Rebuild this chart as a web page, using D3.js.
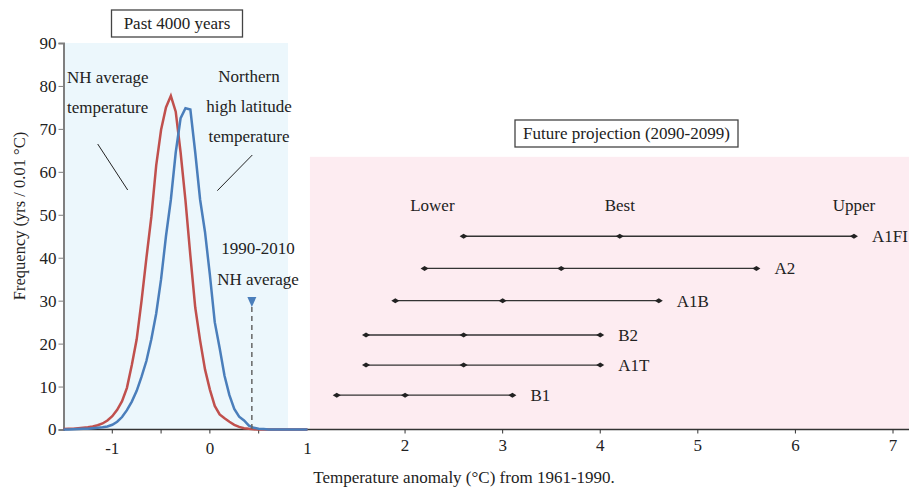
<!DOCTYPE html>
<html>
<head>
<meta charset="utf-8">
<script src="https://cdn.jsdelivr.net/npm/d3@7"></script>
<style>
	body { margin: 0; background: #fff; }
	svg text { font-family: 'Liberation Serif', 'Times New Roman', 'DejaVu Serif', serif !important; fill: #222; }
</style>
</head>
<body>
<svg id="chart" width="909" height="490"></svg>
<script>
'use strict'

// temperature anomaly grid (deg C) for the past-4000-years histograms
const anomalyGrid = [-1.5, -1.45, -1.4, -1.35, -1.3, -1.25, -1.2, -1.15, -1.1, -1.05,
	-1.0, -0.95, -0.9, -0.85, -0.8, -0.75, -0.7, -0.65, -0.6, -0.55,
	-0.5, -0.45, -0.4, -0.35, -0.3, -0.25, -0.2, -0.15, -0.1, -0.05,
	0.0, 0.05, 0.1, 0.15, 0.2, 0.25, 0.3, 0.35, 0.4, 0.45,
	0.5, 0.55, 0.6, 0.65, 0.7, 0.75, 0.8, 0.85, 0.9, 0.95, 1.0]

const nhAverage = [0.1, 0.15, 0.2, 0.3, 0.4, 0.5, 0.7, 1.0, 1.4, 2.1,
	3.1, 4.6, 6.6, 9.7, 15.0, 21.0, 30.0, 40.0, 49.5, 61.5,
	69.8, 75.0, 77.7, 74.0, 64.5, 53.3, 40.5, 28.4, 20.7, 14.0,
	9.3, 5.5, 3.5, 2.6, 1.8, 1.1, 0.6, 0.3, 0.15, 0.05,
	0, 0, 0, 0, 0, 0, 0, 0, 0, 0, 0]

const nhHighLat = [0, 0, 0.05, 0.1, 0.15, 0.2, 0.3, 0.4, 0.5, 0.7,
	1.1, 1.8, 2.9, 4.5, 6.5, 9.0, 12.3, 16.0, 21.0, 27.0,
	35.0, 45.0, 53.5, 64.5, 72.5, 74.8, 74.5, 64.5, 53.5, 46.0,
	36.0, 25.0, 19.0, 12.5, 8.0, 4.8, 3.0, 2.1, 0.9, 0.4,
	0.2, 0.1, 0, 0, 0, 0, 0, 0, 0, 0, 0]

// future projections 2090-2099
const scenarios = ['A1FI', 'A2', 'A1B', 'B2', 'A1T', 'B1']
const scenarioRow = [45, 37.5, 30, 22, 15, 8]
const scenarioLower = [2.6, 2.2, 1.9, 1.6, 1.6, 1.3]
const scenarioBest = [4.2, 3.6, 3.0, 2.6, 2.6, 2.0]
const scenarioUpper = [6.6, 5.6, 4.6, 4.0, 4.0, 3.1]

const rangeHeads = ['Lower', 'Best', 'Upper']
const rangeHeadX = [2.28, 4.2, 6.6]

const recentNhAverage = 0.43

const xTickLabels = [-1, 0, 1, 2, 3, 4, 5, 6, 7]
const xMinorTicks = [-1, -0.5, 0, 0.5, 2, 3, 4, 5, 6, 7]
const yTicks = [0, 10, 20, 30, 40, 50, 60, 70, 80, 90]

const serif = "'Liberation Serif', 'Times New Roman', serif"
const svg = d3.select('#chart')
	.attr('font-family', serif)

const x = d3.scaleLinear().domain([-1.5, 7]).range([63.5, 893])
const y = d3.scaleLinear().domain([0, 90]).range([429.5, 43])

// background bands
svg.append('rect')
	.attr('x', x(-1.5))
	.attr('y', y(90))
	.attr('width', x(0.8) - x(-1.5))
	.attr('height', y(0) - y(90))
	.attr('fill', '#ecf7fc')

svg.append('rect')
	.attr('x', x(1.025))
	.attr('y', y(63.5))
	.attr('width', 909 - x(1.025))
	.attr('height', y(0) - y(63.5))
	.attr('fill', '#fdecf1')

// boxed titles
function boxedTitle(label, cx, top, w, h) {
	svg.append('rect')
		.attr('x', cx - w / 2)
		.attr('y', top)
		.attr('width', w)
		.attr('height', h)
		.attr('fill', '#fff')
		.attr('stroke', '#444')
		.attr('stroke-width', 1.3)
	svg.append('text')
		.attr('x', cx)
		.attr('y', top + h / 2)
		.attr('dy', '0.35em')
		.attr('text-anchor', 'middle')
		.attr('font-size', 17)
		.text(label)
}
boxedTitle('Past 4000 years', 177, 10, 131, 27)
boxedTitle('Future projection (2090-2099)', 626.5, 120, 223, 27)

// axes
const yAxis = svg.append('g')
	.attr('transform', `translate(${x(-1.5)},0)`)
	.call(d3.axisLeft(y).tickValues(yTicks).tickSize(5).tickPadding(2))
	.attr('font-family', serif)
	.attr('font-size', 17)
yAxis.select('.domain').attr('stroke', '#7f7f7f').attr('stroke-width', 2)
yAxis.selectAll('.tick line').attr('stroke', '#7f7f7f')
yAxis.selectAll('.tick text').attr('fill', '#222')

const xAxis = svg.append('g')
	.attr('transform', `translate(0,${y(0)})`)
xAxis.append('line')
	.attr('x1', x(-1.5))
	.attr('x2', 909)
	.attr('stroke', '#333')
	.attr('stroke-width', 1.5)
xAxis.selectAll('.minor')
	.data(xMinorTicks)
	.join('line')
	.attr('class', 'minor')
	.attr('x1', d => x(d))
	.attr('x2', d => x(d))
	.attr('y1', 0)
	.attr('y2', 4)
	.attr('stroke', '#333')
xAxis.selectAll('.lbl')
	.data(xTickLabels)
	.join('text')
	.attr('class', 'lbl')
	.attr('x', d => x(d))
	.attr('y', d => d > 1 ? 21 : 24)
	.attr('text-anchor', 'middle')
	.attr('font-size', 17)
	.text(d => d)

svg.append('text')
	.attr('x', 464)
	.attr('y', 483)
	.attr('text-anchor', 'middle')
	.attr('font-size', 17)
	.text('Temperature anomaly (°C) from 1961-1990.')

svg.append('text')
	.attr('transform', 'translate(25,216) rotate(-90)')
	.attr('text-anchor', 'middle')
	.attr('font-size', 16.5)
	.text('Frequency (yrs / 0.01 °C)')

// histogram curves
const curve = d3.line()
	.x((d, i) => x(anomalyGrid[i]))
	.y(d => y(d))

svg.append('path')
	.attr('d', curve(nhAverage))
	.attr('fill', 'none')
	.attr('stroke', '#c0504d')
	.attr('stroke-width', 2.5)

svg.append('path')
	.attr('d', curve(nhHighLat))
	.attr('fill', 'none')
	.attr('stroke', '#4a7ebb')
	.attr('stroke-width', 2.5)

// curve annotations
function textLines(lines, px, baseY, step, anchor) {
	lines.forEach((s, i) => {
		svg.append('text')
			.attr('x', px)
			.attr('y', baseY + i * step)
			.attr('text-anchor', anchor)
			.attr('font-size', 17)
			.text(s)
	})
}
textLines(['NH average', 'temperature'], 67, 83, 30, 'start')
textLines(['Northern', 'high latitude', 'temperature'], 249, 82, 30, 'middle')
textLines(['1990-2010', 'NH average'], 258, 254, 31, 'middle')

svg.append('line')
	.attr('x1', 97.7).attr('y1', 144)
	.attr('x2', 127.7).attr('y2', 190)
	.attr('stroke', '#222')
svg.append('line')
	.attr('x1', 252.3).attr('y1', 155)
	.attr('x2', 217.3).attr('y2', 190.7)
	.attr('stroke', '#222')

// 1990-2010 marker
svg.append('line')
	.attr('x1', x(recentNhAverage))
	.attr('x2', x(recentNhAverage))
	.attr('y1', y(28.5))
	.attr('y2', y(0))
	.attr('stroke', '#666')
	.attr('stroke-width', 1.5)
	.attr('stroke-dasharray', '5,4')
svg.append('path')
	.attr('transform', `translate(${x(recentNhAverage)},${y(28.5)})`)
	.attr('d', 'M-4.5,-10L4.5,-10L0,0Z')
	.attr('fill', '#4a7ebb')

// projection ranges
svg.selectAll('.rhead')
	.data(rangeHeads)
	.join('text')
	.attr('class', 'rhead')
	.attr('x', (d, i) => x(rangeHeadX[i]))
	.attr('y', 211)
	.attr('text-anchor', 'middle')
	.attr('font-size', 17)
	.text(d => d)

const rows = svg.selectAll('.scen')
	.data(scenarios)
	.join('g')
	.attr('class', 'scen')
	.attr('transform', (d, i) => `translate(0,${y(scenarioRow[i])})`)

rows.append('line')
	.attr('x1', (d, i) => x(scenarioLower[i]))
	.attr('x2', (d, i) => x(scenarioUpper[i]))
	.attr('stroke', '#333')
	.attr('stroke-width', 1.3)

const diamond = 'M-4,0L0,-2.5L4,0L0,2.5Z'
;[scenarioLower, scenarioBest, scenarioUpper].forEach((vals) => {
	rows.append('path')
		.attr('d', diamond)
		.attr('transform', (d, i) => `translate(${x(vals[i])},0)`)
		.attr('fill', '#222')
})

rows.append('text')
	.attr('x', (d, i) => x(scenarioUpper[i]) + 18)
	.attr('dy', '0.35em')
	.attr('font-size', 17)
	.text(d => d)
</script>
</body>
</html>
